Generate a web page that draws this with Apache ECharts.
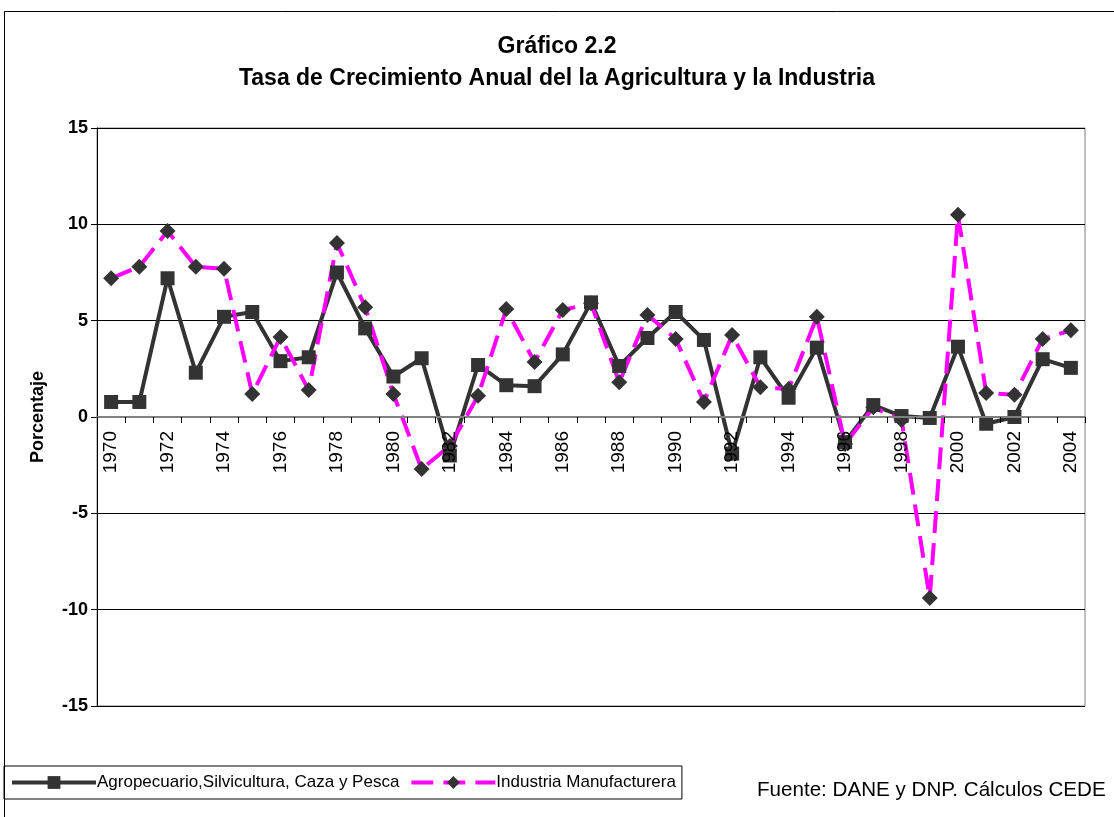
<!DOCTYPE html>
<html>
<head>
<meta charset="utf-8">
<script src="https://cdn.jsdelivr.net/npm/echarts@6/dist/echarts.min.js"></script>
<style>
  html, body { margin: 0; padding: 0; background: #fff; }
  #main { width: 1114px; height: 817px; }
</style>
</head>
<body>
<div id="main"></div>
<script>
var years = ['1970','1971','1972','1973','1974','1975','1976','1977','1978','1979',
  '1980','1981','1982','1983','1984','1985','1986','1987','1988','1989',
  '1990','1991','1992','1993','1994','1995','1996','1997','1998','1999',
  '2000','2001','2002','2003','2004'];

var agro = [0.78, 0.78, 7.2, 2.3, 5.2, 5.45, 2.9, 3.1, 7.5, 4.6,
  2.1, 3.05, -2.0, 2.7, 1.65, 1.6, 3.25, 5.95, 2.65, 4.1,
  5.45, 4.0, -1.9, 3.1, 1.0, 3.6, -1.3, 0.62, 0.05, -0.05,
  3.65, -0.35, 0.0, 3.0, 2.55];

var industria = [7.2, 7.8, 9.65, 7.8, 7.7, 1.2, 4.15, 1.4, 9.03, 5.7,
  1.2, -2.7, -1.5, 1.1, 5.6, 2.85, 5.55, 5.9, 1.8, 5.3,
  4.05, 0.78, 4.25, 1.55, 1.45, 5.2, -1.4, 0.5, -0.15, -9.4,
  10.5, 1.25, 1.15, 4.05, 4.5];

var nombres = ['Agropecuario,Silvicultura, Caza y Pesca', 'Industria Manufacturera'];

var fuente = 'Arial, "Liberation Sans", sans-serif';
var chart = echarts.init(document.getElementById('main'));

// grid: top 128, height 578 -> zero line sits 289px above the bottom edge
var gridTop = 128, gridBottom = 111;
var zeroOffset = -(817 - gridTop - gridBottom) / 2;

chart.setOption({
  animation: false,
  backgroundColor: '#fff',
  title: {
    text: 'Gráfico 2.2\nTasa de Crecimiento Anual del la Agricultura y la Industria',
    left: 'center',
    top: 26,
    textStyle: { fontFamily: fuente, fontSize: 23, fontWeight: 'bold', color: '#000', lineHeight: 32 }
  },
  legend: {
    left: 4,
    top: 766,
    data: nombres,
    borderColor: '#000',
    borderWidth: 1,
    padding: [8, 6, 8, 6],
    itemWidth: 84,
    itemHeight: 16,
    itemGap: 10,
    lineStyle: { width: 4 },
    textStyle: { fontFamily: fuente, fontSize: 17, color: '#000', padding: [0, 0, 0, -4] }
  },
  grid: {
    left: 97, right: 29, top: gridTop, bottom: gridBottom,
    show: true, borderColor: '#808080', borderWidth: 1
  },
  xAxis: {
    type: 'category',
    data: years,
    boundaryGap: true,
    offset: zeroOffset,
    z: 10,
    axisLine: { onZero: false, lineStyle: { color: '#808080', width: 2 } },
    axisTick: { show: true, interval: 0, alignWithLabel: false, length: 6, lineStyle: { color: '#000' } },
    axisLabel: { interval: 1, rotate: 90, fontFamily: fuente, fontSize: 19, color: '#000', margin: 14 },
    splitLine: { show: false }
  },
  yAxis: {
    type: 'value',
    min: -15, max: 15, interval: 5,
    name: 'Porcentaje',
    nameLocation: 'middle',
    nameGap: 50,
    nameTextStyle: { fontFamily: fuente, fontSize: 18, fontWeight: 'bold', color: '#000' },
    axisLine: { show: true, lineStyle: { color: '#000', width: 1 } },
    axisTick: { show: true, length: 6, lineStyle: { color: '#000' } },
    axisLabel: { fontFamily: fuente, fontSize: 18, fontWeight: 'bold', color: '#000', margin: 9 },
    splitLine: { show: true, lineStyle: { color: '#000', width: 1 } }
  },
  graphic: [
    {
      type: 'rect',
      shape: { x: 4.5, y: 11.5, width: 1200, height: 900 },
      style: { fill: 'none', stroke: '#000', lineWidth: 1 },
      silent: true, z: -1
    },
    {
      type: 'text',
      left: 757, top: 780,
      style: { text: 'Fuente: DANE y DNP. Cálculos CEDE', font: '20.6px ' + fuente, fill: '#000' }
    }
  ],
  series: [
    {
      name: nombres[0],
      type: 'line',
      data: agro,
      symbol: 'rect',
      symbolSize: 14,
      showAllSymbol: true,
      lineStyle: { color: '#333333', width: 4 },
      itemStyle: { color: '#333333' }
    },
    {
      name: nombres[1],
      type: 'line',
      data: industria,
      symbol: 'diamond',
      symbolSize: 16,
      showAllSymbol: true,
      lineStyle: { color: '#ff00ff', width: 4, type: [22, 10] },
      itemStyle: { color: '#333333' }
    }
  ]
});
</script>
</body>
</html>
